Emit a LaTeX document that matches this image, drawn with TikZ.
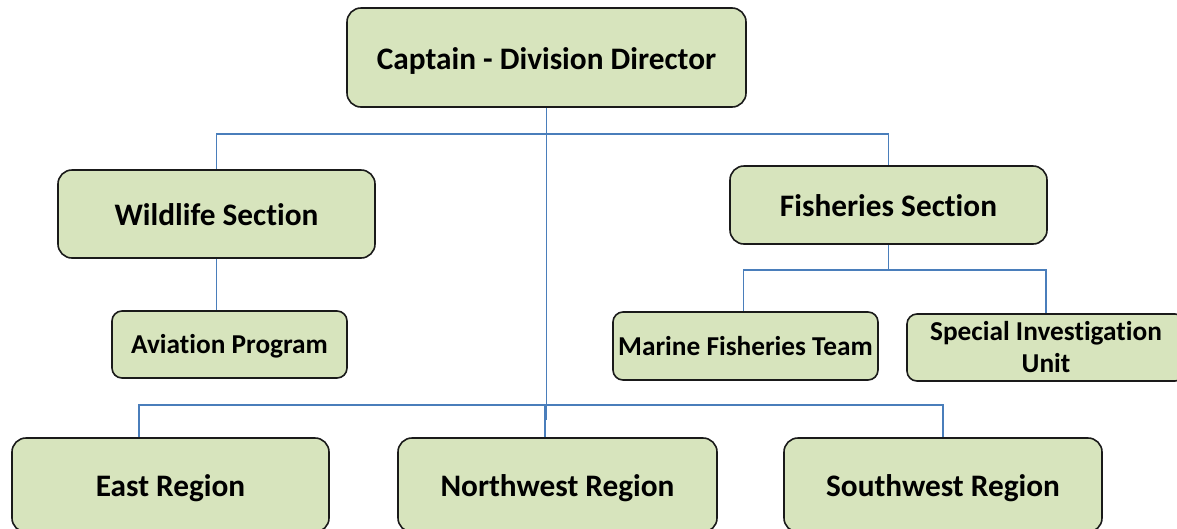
\documentclass[tikz,border=0pt]{standalone}
\usepackage{fontspec}
\setmainfont[Ligatures=NoCommon]{Carlito}
\definecolor{boxfill}{HTML}{D7E4BD}
\definecolor{linkblue}{HTML}{4A7EBB}
\definecolor{boxline}{HTML}{1A1A1A}
\begin{document}
\begin{tikzpicture}[x=1pt,y=-1pt,
  box/.style={draw=boxline, line width=1.6pt, fill=boxfill, rounded corners=14pt, inner sep=0pt, align=center, font=\fontsize{31.3}{36}\selectfont\bfseries},
  bigtext/.style={text height=29pt, text depth=6pt},
  smallbox/.style={box, rounded corners=10pt, font=\fontsize{27.3}{32}\selectfont\bfseries},
  smalltext/.style={text height=24.5pt, text depth=5.7pt},
  link/.style={draw=linkblue, line width=1.8pt}]
\useasboundingbox (0,0) rectangle (1177,528);
\node[box, bigtext, minimum width=399pt, minimum height=99pt] (top) at (546.5,57.5) {Captain - Division Director};
\node[box, bigtext, minimum width=317pt, minimum height=88pt] (wild) at (216.5,214) {Wildlife Section};
\node[box, bigtext, minimum width=317pt, minimum height=78pt] (fish) at (888.5,205) {Fisheries Section};
\node[smallbox, smalltext, minimum width=235pt, minimum height=67pt] (avi) at (229.5,344.5) {Aviation Program};
\node[smallbox, smalltext, minimum width=265pt, minimum height=68pt] (mar) at (745.5,346) {Marine Fisheries Team};
\node[smallbox, minimum width=278pt, minimum height=67pt] (spec) at (1046,347.5) {Special Investigation\\Unit};
\node[box, bigtext, minimum width=317pt, minimum height=94pt] (east) at (170.5,485) {East Region};
\node[box, bigtext, minimum width=319pt, minimum height=94pt] (nw) at (557.5,485) {Northwest Region};
\node[box, bigtext, minimum width=318pt, minimum height=94pt] (sw) at (943,485) {Southwest Region};
\coordinate (busA) at (0,134);
\coordinate (busB) at (0,405);
\coordinate (busC) at (0,270);
\coordinate (topend) at (0,420);
\draw[link] (top.south) -- (top.south |- topend);
\draw[link] (wild.north) -- (wild.north |- busA) -- (fish.north |- busA) -- (fish.north);
\draw[link] (wild.south) -- (wild.south |- avi.north);
\draw[link] (fish.south) -- (fish.south |- busC);
\draw[link] ([xshift=-2pt]mar.north) -- ([xshift=-2pt]mar.north |- busC) -- (spec.north |- busC) -- (spec.north);
\draw[link] ([xshift=-31.5pt]east.north) -- ([xshift=-31.5pt]east.north |- busB) -- (sw.north |- busB) -- (sw.north);
\draw[link] ([xshift=-12.5pt]nw.north) -- ([xshift=-12.5pt]nw.north |- busB);
\end{tikzpicture}
\end{document}
